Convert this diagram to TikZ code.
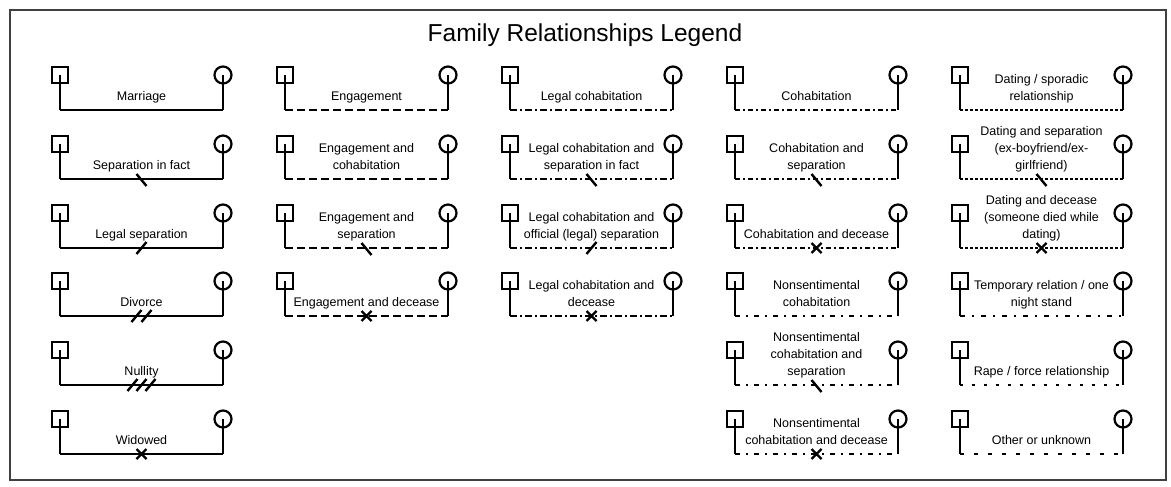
\documentclass[tikz,border=0pt]{standalone}
\usepackage{fontspec}
\setmainfont{Liberation Sans}
\usetikzlibrary{positioning}

% square, circle and the line joining them
\newcommand{\couple}[6]{%
  \node[male] (#1m) at (#2,#3) {};
  \node[female] (#1f) [right of=#1m] {};
  \coordinate (#1a) at ([yshift=-35pt]#1m.center);
  \coordinate (#1b) at (#1a -| #1f.center);
  \draw[link] (#1m.center) -- (#1a);
  \draw[link] (#1f.center) -- (#1b);
  \draw[link,#4] (#1a) -- node[rel label] {#6} coordinate[midway] (#1c) (#1b);
  \pic at (#1c) {#5};
}

\begin{document}
\begin{tikzpicture}[node distance=163pt, x=1pt, y=-1pt,
    male/.style={draw, line width=2.2pt, minimum size=16.5pt, inner sep=0pt},
    female/.style={draw, circle, line width=2.2pt, minimum size=17pt, inner sep=0pt},
    link/.style={line width=1.8pt},
    rel label/.style={above=9pt, align=center, inner sep=0pt, text depth=0pt,
      font=\fontsize{12.5}{17}\selectfont},
    tick line/.style={line width=2.4pt, solid},
    legendbox/.style={line width=1.2pt, black!75},
    married/.style={},
    engaged/.style={dash pattern=on 8pt off 4pt},
    legalcohab/.style={dash pattern=on 7pt off 3pt on 2pt off 3pt},
    cohab/.style={dash pattern=on 5pt off 3pt on 2pt off 3pt},
    nonsent/.style={dash pattern=on 5pt off 6pt on 2pt off 6pt},
    dating/.style={dash pattern=on 3pt off 2pt},
    temporary/.style={dash pattern=on 5pt off 7pt on 2pt off 7pt},
    forced/.style={dash pattern=on 3pt off 9pt},
    unknown/.style={dash pattern=on 4pt off 10pt, line width=1.2pt},
    nomark/.pic={},
    sepfact/.pic={\draw[tick line] (-5,-5) -- (5,7);},
    legalsep/.pic={\draw[tick line] (-5,6) -- (5,-6);},
    divorce/.pic={\draw[tick line] (-10,6) -- (0,-6) (0,6) -- (10,-6);},
    nullity/.pic={\draw[tick line] (-14,6) -- (-4,-6) (-5,6) -- (5,-6) (4,6) -- (14,-6);},
    decease/.pic={\draw[tick line] (-5,-5) -- (5,5) (-5,5) -- (5,-5);}]
  \useasboundingbox (0,0) rectangle (1171,487);
  \draw[legendbox] (10,10) rectangle (1166,480);
  \node (title) at (585,35) {\fontsize{24.5}{28}\selectfont Family Relationships Legend};

  % marriage
  \couple{mar}{60}{75}{married}{nomark}{Marriage}
  \couple{sep}{60}{144}{married}{sepfact}{Separation in fact}
  \couple{lsep}{60}{213}{married}{legalsep}{Legal separation}
  \couple{div}{60}{281}{married}{divorce}{Divorce}
  \couple{nul}{60}{350}{married}{nullity}{Nullity}
  \couple{wid}{60}{419}{married}{decease}{Widowed}

  % engagement
  \couple{eng}{285}{75}{engaged}{nomark}{Engagement}
  \couple{engcoh}{285}{144}{engaged}{nomark}{Engagement and\\cohabitation}
  \couple{engsep}{285}{213}{engaged}{sepfact}{Engagement and\\separation}
  \couple{engdec}{285}{281}{engaged}{decease}{Engagement and decease}

  % legal cohabitation
  \couple{lco}{510}{75}{legalcohab}{nomark}{Legal cohabitation}
  \couple{lcosep}{510}{144}{legalcohab}{sepfact}{Legal cohabitation and\\separation in fact}
  \couple{lcolsep}{510}{213}{legalcohab}{legalsep}{Legal cohabitation and\\official (legal) separation}
  \couple{lcodec}{510}{281}{legalcohab}{decease}{Legal cohabitation and\\decease}

  % cohabitation
  \couple{coh}{735}{75}{cohab}{nomark}{Cohabitation}
  \couple{cohsep}{735}{144}{cohab}{sepfact}{Cohabitation and\\separation}
  \couple{cohdec}{735}{213}{cohab}{decease}{Cohabitation and decease}
  \couple{non}{735}{281}{nonsent}{nomark}{Nonsentimental\\cohabitation}
  \couple{nonsep}{735}{350}{nonsent}{sepfact}{Nonsentimental\\cohabitation and\\separation}
  \couple{nondec}{735}{419}{nonsent}{decease}{Nonsentimental\\cohabitation and decease}

  % dating and others
  \couple{dat}{960}{75}{dating}{nomark}{Dating / sporadic\\relationship}
  \couple{datsep}{960}{144}{dating}{sepfact}{Dating and separation\\(ex-boyfriend/ex-\\girlfriend)}
  \couple{datdec}{960}{213}{dating}{decease}{Dating and decease\\(someone died while\\dating)}
  \couple{tmp}{960}{281}{temporary}{nomark}{Temporary relation / one\\night stand}
  \couple{rap}{960}{350}{forced}{nomark}{Rape / force relationship}
  \couple{oth}{960}{419}{unknown}{nomark}{Other or unknown}
\end{tikzpicture}
\end{document}
